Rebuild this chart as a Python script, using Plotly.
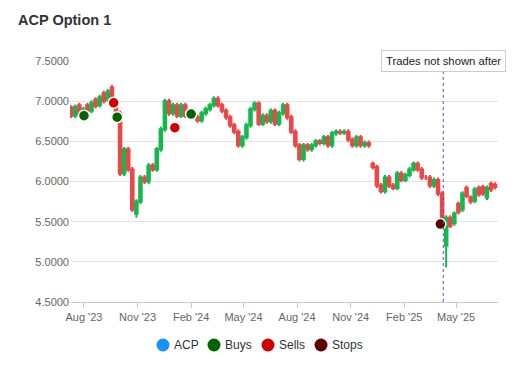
import plotly.graph_objects as go
import pandas as pd

# Weekly candles (week start dates)
dates = list(pd.date_range("2023-07-10", periods=105, freq="7D").strftime("%Y-%m-%d"))

closes = [6.82, 6.93, 6.84, 6.90, 6.88, 6.98, 6.94, 7.05, 7.00, 7.12,
          7.05, 6.85, 6.10, 6.40, 6.15, 5.65, 5.75, 6.05, 6.00, 6.20,
          6.15, 6.40, 6.65, 7.00, 6.85, 6.95, 6.82, 6.95, 6.82, 6.88,
          6.80, 6.76, 6.85, 6.90, 6.95, 7.03, 6.95, 6.88, 6.80, 6.70,
          6.62, 6.45, 6.55, 6.70, 6.90, 6.97, 6.72, 6.82, 6.75, 6.88,
          6.72, 6.85, 6.95, 6.80, 6.62, 6.45, 6.28, 6.45, 6.40, 6.45,
          6.50, 6.48, 6.55, 6.45, 6.60, 6.62, 6.61, 6.62, 6.52, 6.45,
          6.55, 6.45, 6.48, 6.45, 6.18, 5.95, 5.88, 6.05, 5.95, 5.92,
          6.10, 6.02, 6.08, 6.15, 6.22, 6.15, 6.05, 6.05, 5.95, 6.02,
          5.85, 5.45, 5.55, 5.45, 5.60, 5.62, 5.85, 5.82, 5.75, 5.90,
          5.84, 5.85, 5.92, 5.90, 5.93]

opens = [6.92, 6.82, 6.95, 6.85, 6.95, 6.88, 7.02, 6.95, 7.10, 7.02,
         7.17, 7.00, 6.85, 6.10, 6.40, 6.15, 5.60, 5.75, 6.05, 6.00,
         6.20, 6.15, 6.40, 6.65, 7.00, 6.85, 6.95, 6.82, 6.95, 6.82,
         6.88, 6.80, 6.76, 6.85, 6.90, 6.95, 7.03, 6.95, 6.88, 6.80,
         6.70, 6.62, 6.45, 6.55, 6.70, 6.90, 6.97, 6.72, 6.82, 6.75,
         6.88, 6.72, 6.85, 6.95, 6.80, 6.62, 6.45, 6.28, 6.45, 6.40,
         6.45, 6.50, 6.48, 6.55, 6.45, 6.60, 6.62, 6.61, 6.62, 6.52,
         6.45, 6.55, 6.45, 6.48, 6.22, 6.18, 5.95, 5.88, 6.05, 5.95,
         5.92, 6.10, 6.02, 6.08, 6.15, 6.22, 6.15, 6.05, 6.05, 5.95,
         6.02, 5.85, 5.20, 5.55, 5.48, 5.72, 5.65, 5.92, 5.80, 5.76,
         5.92, 5.93, 5.80, 5.97, 5.96]

highs = [max(o, c) + 0.03 for o, c in zip(opens, closes)]
lows = [min(o, c) - 0.03 for o, c in zip(opens, closes)]
lows[16] = 5.55
lows[92] = 4.93

buy_dates = ["2023-08-01", "2023-09-27", "2024-02-01"]
buy_prices = [6.82, 6.80, 6.84]
sell_dates = ["2023-09-21", "2024-01-04"]
sell_prices = [6.98, 6.67]
stop_dates = ["2025-04-04"]
stop_prices = [5.47]

cutoff_date = "2025-04-09"
y_ticks = [4.5, 5.0, 5.5, 6.0, 6.5, 7.0, 7.5]

legend_names = ["ACP", "Buys", "Sells", "Stops"]
legend_colors = ["#1890ff", "#006400", "#d00000", "#5c0000"]

fig = go.Figure()
fig.add_trace(go.Candlestick(
    x=dates, open=opens, high=highs, low=lows, close=closes,
    increasing=dict(line=dict(color="#14b84e", width=2), fillcolor="#14b84e"),
    decreasing=dict(line=dict(color="#ec4747", width=2), fillcolor="#ec4747"),
    whiskerwidth=0, showlegend=False, name="ACP", hoverinfo="skip"))
for nm, xs, ys, col in [("Buys", buy_dates, buy_prices, legend_colors[1]),
                        ("Sells", sell_dates, sell_prices, legend_colors[2]),
                        ("Stops", stop_dates, stop_prices, legend_colors[3])]:
    fig.add_trace(go.Scatter(x=xs, y=ys, mode="markers", name=nm, showlegend=False,
                             marker=dict(color=col, size=11,
                                         line=dict(color="white", width=1.5))))

fig.add_shape(type="line", x0=cutoff_date, x1=cutoff_date, y0=0, y1=1,
              xref="x", yref="paper",
              line=dict(color="#5555cc", width=1, dash="dot"))
fig.add_annotation(x=cutoff_date, y=1, xref="x", yref="paper",
                   text="Trades not shown after", showarrow=False,
                   yanchor="middle", font=dict(size=11.3, color="#222"),
                   bgcolor="white", bordercolor="#cccccc", borderwidth=1,
                   borderpad=4)

# Manual legend (compact, circle icons) below the plot
plot_l, plot_w, plot_b, plot_h = 70, 428, 302, 241
icon_px = [163, 214, 268, 321]
leg_y_px = 345
r = 6.5
for name, col, cx in zip(legend_names, legend_colors, icon_px):
    fig.add_shape(type="circle", xref="paper", yref="paper",
                  x0=(cx - r - plot_l) / plot_w, x1=(cx + r - plot_l) / plot_w,
                  y0=(plot_b - leg_y_px - r) / plot_h, y1=(plot_b - leg_y_px + r) / plot_h,
                  fillcolor=col, line=dict(width=0))
    fig.add_annotation(x=(cx + 8.5 - plot_l) / plot_w, y=(plot_b - leg_y_px) / plot_h,
                       xref="paper", yref="paper", text=name, showarrow=False,
                       xanchor="left", yanchor="middle",
                       font=dict(size=12, color="#333"))

fig.update_layout(
    width=530, height=380,
    margin=dict(l=70, r=32, t=61, b=78),
    paper_bgcolor="white", plot_bgcolor="white",
    boxgap=0.1, showlegend=False,
    font=dict(family="Liberation Sans, Arial", size=11, color="#666"),
    title=dict(text="<b>ACP Option 1</b>", x=0.034, xref="container", xanchor="left",
               y=0.947, yref="container", yanchor="middle",
               font=dict(size=14.5, color="#333")),
    xaxis=dict(type="date", range=["2023-07-08", "2025-07-12"],
               tick0="2023-08-01", dtick="M3", tickformat="%b '%y",
               showgrid=False, showline=True, linecolor="#cccccc",
               ticks="outside", ticklen=5, tickcolor="#cccccc",
               rangeslider=dict(visible=False), fixedrange=True),
    yaxis=dict(range=[4.5, 7.5], tickvals=y_ticks, tickformat=".4f",
               showgrid=True, gridcolor="#e3e3e3", zeroline=False,
               ticks="", showline=False, fixedrange=True),
)
fig.write_html("out.html", config={"displayModeBar": False},
               post_script="document.body.style.margin='0';")
